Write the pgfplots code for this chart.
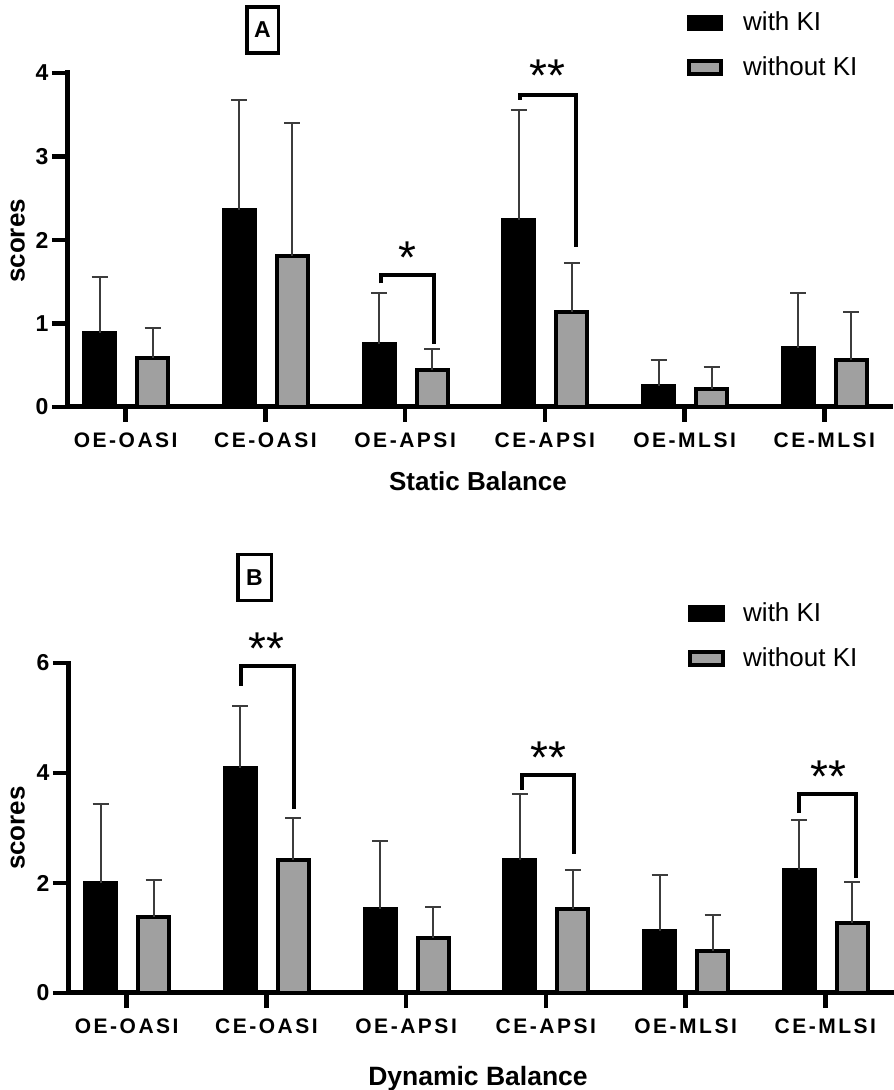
\documentclass[border=0pt]{standalone}
\usepackage{fontspec}
\setmainfont{Liberation Sans}
\usepackage{pgfplots}
\pgfplotsset{compat=1.18}
\usepackage{pgfplotstable}
\definecolor{barg}{RGB}{160,160,160}
\definecolor{errc}{RGB}{60,60,60}

\pgfplotstableread{
x y e
0 0.89 0.67
1 2.36 1.32
2 0.76 0.60
3 2.24 1.32
4 0.25 0.31
5 0.71 0.65
}\topWith
\pgfplotstableread{
x y e
0 0.59 0.36
1 1.81 1.59
2 0.44 0.25
3 1.14 0.58
4 0.22 0.26
5 0.56 0.58
}\topWithout
\pgfplotstableread{
x y e
0 2.00 1.44
1 4.10 1.11
2 1.53 1.24
3 2.42 1.19
4 1.13 1.02
5 2.24 0.91
}\botWith
\pgfplotstableread{
x y e
0 1.39 0.67
1 2.42 0.76
2 1.00 0.57
3 1.52 0.72
4 0.76 0.66
5 1.27 0.74
}\botWithout

\pgfplotsset{
  balstyle/.style={
    scale only axis, width=823pt, xmin=-0.42, xmax=5.47, ymin=0,
    axis x line*=bottom, axis y line*=left,
    axis line style={line width=5pt, line cap=rect},
    every tick/.style={black, line width=4.5pt},
    tick align=outside, major tick length=15pt,
    minor tick num=0,
    xtick={0,...,5},
    xticklabels={OE-OASI,CE-OASI,OE-APSI,CE-APSI,OE-MLSI,CE-MLSI},
    xticklabel style={font=\bfseries\fontsize{21}{21}\selectfont\addfontfeatures{LetterSpace=12}, yshift=-7pt},
    yticklabel style={font=\bfseries\fontsize{23}{23}\selectfont},
    /pgf/number format/assume math mode=true,
    clip=false, ybar, bar width=31pt,
  },
  errstyle/.style={error bars/.cd, y dir=plus, y explicit,
    error bar style={line width=2pt, errc},
    error mark options={errc, line width=2pt, mark size=8pt, rotate=90}},
  withbar/.style={fill=black, draw=black, line width=4pt, bar shift=-26pt, errstyle},
  withoutbar/.style={fill=barg, draw=black, line width=4pt, bar shift=27pt, errstyle},
}
\tikzset{
  stars/.style={anchor=base, yshift=-21.5pt, font=\fontsize{46}{46}\selectfont},
  bracket/.style={line width=4pt},
}

\begin{document}
\begin{tikzpicture}[x=1pt,y=1pt]
\useasboundingbox (0,0) rectangle (894,1090);

% ---------- Panel A ----------
\begin{axis}[balstyle, at={(67pt,683pt)}, anchor=south west,
  height=334pt, ymax=4, ytick={0,1,2,3,4}]
\addplot[withbar] table[x=x,y=y,y error plus=e]{\topWith};
\addplot[withoutbar] table[x=x,y=y,y error plus=e]{\topWithout};
\draw[bracket] (axis cs:1.83,1.48) |- (axis cs:2.21,1.58) -- (axis cs:2.21,0.76);
\node[stars] at (axis cs:2.02,1.86) {*};
\draw[bracket] (axis cs:2.82,3.68) |- (axis cs:3.22,3.74) -- (axis cs:3.22,1.92);
\node[stars] at (axis cs:3.02,4.04) {**};
\end{axis}

% ---------- Panel B ----------
\begin{axis}[balstyle, at={(68pt,97pt)}, anchor=south west,
  height=330pt, ymax=6, ytick={0,2,4,6}]
\addplot[withbar] table[x=x,y=y,y error plus=e]{\botWith};
\addplot[withoutbar] table[x=x,y=y,y error plus=e]{\botWithout};
\draw[bracket] (axis cs:0.82,5.59) |- (axis cs:1.20,5.94) -- (axis cs:1.20,3.35);
\node[stars] at (axis cs:1.00,6.36) {**};
\draw[bracket] (axis cs:2.83,3.70) |- (axis cs:3.20,3.97) -- (axis cs:3.20,2.53);
\node[stars] at (axis cs:3.02,4.39) {**};
\draw[bracket] (axis cs:4.81,3.27) |- (axis cs:5.22,3.61) -- (axis cs:5.22,2.09);
\node[stars] at (axis cs:5.02,4.03) {**};
\end{axis}

% ---------- labels ----------
\node[rotate=90, anchor=base, font=\bfseries\fontsize{26}{26}\selectfont] at (24.5,849) {scores};
\node[rotate=90, anchor=base, font=\bfseries\fontsize{26}{26}\selectfont] at (24.5,262) {scores};
\node[anchor=base, font=\bfseries\fontsize{26}{26}\selectfont] at (478,599) {Static Balance};
\node[anchor=base, font=\bfseries\fontsize{26.5}{26.5}\selectfont] at (478,5) {Dynamic Balance};

\node[draw, line width=3.5pt, minimum width=31.5pt, minimum height=46pt, inner sep=0pt,
  font=\bfseries\fontsize{23}{23}\selectfont] at (262.5,1060) {A};
\node[draw, line width=3.5pt, minimum width=33.5pt, minimum height=46pt, inner sep=0pt,
  font=\bfseries\fontsize{23}{23}\selectfont] at (254.5,512.5) {B};

% ---------- legends ----------
\fill[black] (687,1059) rectangle (723,1075);
\draw[line width=4pt, fill=barg] (689,1016) rectangle (721,1029);
\node[anchor=base west, inner sep=0pt, font=\fontsize{26}{26}\selectfont] at (743,1059) {with KI};
\node[anchor=base west, inner sep=0pt, font=\fontsize{26}{26}\selectfont] at (743,1014) {without KI};

\fill[black] (688,468) rectangle (725,485);
\draw[line width=4pt, fill=barg] (690,425) rectangle (723,438);
\node[anchor=base west, inner sep=0pt, font=\fontsize{26}{26}\selectfont] at (743,468) {with KI};
\node[anchor=base west, inner sep=0pt, font=\fontsize{26}{26}\selectfont] at (743,423) {without KI};
\end{tikzpicture}
\end{document}
